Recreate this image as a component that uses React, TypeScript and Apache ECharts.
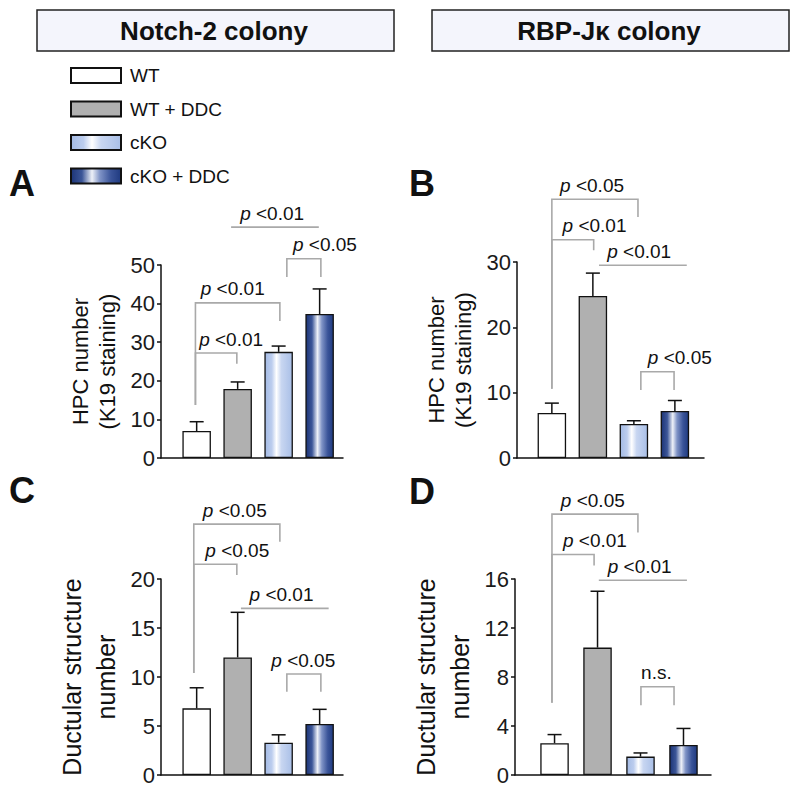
import React, { useEffect, useRef } from 'react';
import * as echarts from 'echarts';

// ---------- data ----------
const groups = ['WT', 'WT + DDC', 'cKO', 'cKO + DDC'];

const hpcNotchMean = [7.0, 17.9, 27.5, 37.3];
const hpcNotchErr = [2.4, 1.8, 1.5, 6.5];
const hpcRbpMean = [6.9, 24.8, 5.2, 7.2];
const hpcRbpErr = [1.5, 3.5, 0.5, 1.6];
const ductNotchMean = [6.8, 12.0, 3.3, 5.2];
const ductNotchErr = [2.1, 4.6, 0.8, 1.5];
const ductRbpMean = [2.6, 10.4, 1.5, 2.45];
const ductRbpErr = [0.7, 4.6, 0.3, 1.35];

const yMaxes = [50, 30, 20, 16];
const yIntervals = [10, 10, 5, 4];
const yTitles = ['HPC number\n(K19 staining)', 'HPC number\n(K19 staining)', 'Ductular structure\nnumber', 'Ductular structure\nnumber'];
const panelLetters = ['A', 'B', 'C', 'D'];
const headers = ['Notch-2 colony', 'RBP-J\u03ba colony'];

// significance brackets (data units): x1, x2, top, left-leg end, right-leg end, label x, label
type Br = { x1: number; x2: number; top: number; lb: number | null; rb: number | null; lx: number; text: string };
const bracketsA: Br[] = [
  { x1: 0.97, x2: 1.98, top: 27.2, lb: 13.7, rb: 24.4, lx: 1.84, text: 'p <0.01' },
  { x1: 0.97, x2: 3.03, top: 40.2, lb: 13.7, rb: 35.5, lx: 1.88, text: 'p <0.01' },
  { x1: 3.2, x2: 4.03, top: 51.6, lb: 46.9, rb: 46.9, lx: 4.13, text: 'p <0.05' },
  { x1: 1.84, x2: 3.98, top: 59.8, lb: null, rb: null, lx: 2.84, text: 'p <0.01' },
];
const bracketsB: Br[] = [
  { x1: 1.0, x2: 3.1, top: 39.6, lb: 10.6, rb: 36.9, lx: 1.98, text: 'p <0.05' },
  { x1: 1.0, x2: 2.02, top: 33.4, lb: 10.6, rb: 31.8, lx: 2.04, text: 'p <0.01' },
  { x1: 2.15, x2: 4.29, top: 29.5, lb: null, rb: null, lx: 3.13, text: 'p <0.01' },
  { x1: 3.17, x2: 3.98, top: 13.2, lb: 10.4, rb: 10.4, lx: 4.12, text: 'p <0.05' },
];
const bracketsC: Br[] = [
  { x1: 0.93, x2: 3.03, top: 25.6, lb: 10.4, rb: 23.8, lx: 1.93, text: 'p <0.05' },
  { x1: 0.93, x2: 1.98, top: 21.5, lb: 10.4, rb: 20.4, lx: 1.99, text: 'p <0.05' },
  { x1: 2.08, x2: 4.22, top: 17.0, lb: null, rb: null, lx: 3.07, text: 'p <0.01' },
  { x1: 3.2, x2: 4.03, top: 10.3, lb: 8.5, rb: 8.5, lx: 3.6, text: 'p <0.05' },
];
const bracketsD: Br[] = [
  { x1: 0.94, x2: 2.94, top: 21.3, lb: 5.9, rb: 19.8, lx: 1.89, text: 'p <0.05' },
  { x1: 0.94, x2: 1.92, top: 18.0, lb: 5.9, rb: 17.1, lx: 1.94, text: 'p <0.01' },
  { x1: 2.03, x2: 4.08, top: 15.9, lb: null, rb: null, lx: 2.98, text: 'p <0.01' },
  { x1: 3.01, x2: 3.78, top: 7.2, lb: 5.7, rb: 5.7, lx: 3.37, text: 'n.s.' },
];

// ---------- layout / style ----------
const FONT = '"Liberation Sans", Arial, Helvetica, sans-serif';
const grids = [
  { left: 161, top: 265, width: 182, height: 193, xmin: 0.13, xmax: 4.57, nameGap: 40, fs: 22, lh: 27 },
  { left: 517, top: 262, width: 187, height: 196, xmin: 0.15, xmax: 4.71, nameGap: 40, fs: 22, lh: 27 },
  { left: 161, top: 579, width: 182, height: 196, xmin: 0.13, xmax: 4.57, nameGap: 38, fs: 25, lh: 34 },
  { left: 515, top: 579, width: 196, height: 196, xmin: 0.08, xmax: 4.64, nameGap: 38, fs: 25, lh: 34 },
];
const letterPos = [
  [9, 183],
  [409, 183],
  [9, 490],
  [409, 491],
];

function fills(): any[] {
  return [
    '#ffffff',
    '#b0b0b0',
    new echarts.graphic.LinearGradient(0, 0, 1, 0, [
      { offset: 0, color: '#a4bbe5' },
      { offset: 0.25, color: '#bccdee' },
      { offset: 0.42, color: '#ffffff' },
      { offset: 0.6, color: '#c8d6f1' },
      { offset: 1, color: '#a9bfe7' },
    ]),
    new echarts.graphic.LinearGradient(0, 0, 1, 0, [
      { offset: 0, color: '#1c3477' },
      { offset: 0.22, color: '#3c5698' },
      { offset: 0.42, color: '#eef1f8' },
      { offset: 0.58, color: '#7f93c6' },
      { offset: 0.8, color: '#3a5499' },
      { offset: 1, color: '#1f3a80' },
    ]),
  ];
}

function buildOption() {
  const means = [hpcNotchMean, hpcRbpMean, ductNotchMean, ductRbpMean];
  const errs = [hpcNotchErr, hpcRbpErr, ductNotchErr, ductRbpErr];
  const brackets = [bracketsA, bracketsB, bracketsC, bracketsD];

  const axisLineStyle = { color: '#111', width: 1.5 };
  const series: any[] = [];

  means.forEach((m, p) => {
    const f = fills();
    groups.forEach((g, k) => {
      series.push({
        type: 'bar',
        name: g,
        xAxisIndex: p,
        yAxisIndex: p,
        barWidth: 28.5,
        barGap: '-100%',
        data: [[k + 1, m[k]]],
        itemStyle: { color: f[k], borderColor: '#111', borderWidth: 1.3 },
        z: 2,
      });
    });
    series.push({
      type: 'custom',
      xAxisIndex: p,
      yAxisIndex: p,
      clip: false,
      z: 3,
      encode: { x: 0, y: [1, 2] },
      data: m.map((v, k) => [k + 1, v, v + errs[p][k]]),
      renderItem: (params: any, api: any) => {
        const x = api.value(0);
        const p0 = api.coord([x, api.value(1)]);
        const p1 = api.coord([x, api.value(2)]);
        const st = { stroke: '#111', lineWidth: 1.5 };
        return {
          type: 'group',
          children: [
            { type: 'line', shape: { x1: p0[0], y1: p0[1], x2: p1[0], y2: p1[1] }, style: st },
            { type: 'line', shape: { x1: p1[0] - 7, y1: p1[1], x2: p1[0] + 7, y2: p1[1] }, style: st },
          ],
        };
      },
    });
    const bl = brackets[p];
    series.push({
      type: 'custom',
      xAxisIndex: p,
      yAxisIndex: p,
      clip: false,
      z: 4,
      encode: { x: 0, y: 1 },
      data: bl.map((b) => [b.lx, b.top]),
      renderItem: (params: any, api: any) => {
        const b = bl[params.dataIndex];
        const pts: number[][] = [];
        if (b.lb !== null) pts.push(api.coord([b.x1, b.lb]));
        pts.push(api.coord([b.x1, b.top]));
        pts.push(api.coord([b.x2, b.top]));
        if (b.rb !== null) pts.push(api.coord([b.x2, b.rb]));
        const lp = api.coord([b.lx, b.top]);
        const isP = b.text.startsWith('p ');
        const txt = isP ? '{i|p}' + b.text.slice(1) : b.text;
        return {
          type: 'group',
          children: [
            { type: 'polyline', shape: { points: pts }, style: { stroke: '#a9a9a9', lineWidth: 1.6, fill: 'none' } },
            {
              type: 'text',
              x: lp[0],
              y: lp[1] - 14,
              style: {
                text: txt,
                fontSize: 19,
                fontFamily: FONT,
                fill: '#111',
                align: 'center',
                verticalAlign: 'middle',
                rich: { i: { fontStyle: 'italic', fontSize: 19, fontFamily: FONT, fill: '#111' } },
              },
            },
          ],
        };
      },
    });
  });

  const graphic: any[] = [];
  headers.forEach((h, i) => {
    const x0 = i === 0 ? 37 : 432;
    graphic.push({
      type: 'rect',
      shape: { x: x0, y: 10, width: 357, height: 41 },
      style: { fill: '#f4f5fc', stroke: '#222', lineWidth: 1.5 },
    });
    graphic.push({
      type: 'text',
      x: x0 + 177,
      y: 31,
      style: { text: h, fontSize: 26, fontWeight: 'bold', fontFamily: FONT, fill: '#111', align: 'center', verticalAlign: 'middle' },
    });
  });
  panelLetters.forEach((L, i) => {
    graphic.push({
      type: 'text',
      x: letterPos[i][0],
      y: letterPos[i][1],
      style: { text: L, fontSize: 36, fontWeight: 'bold', fontFamily: FONT, fill: '#111', align: 'left', verticalAlign: 'middle' },
    });
  });

  return {
    animation: false,
    backgroundColor: '#ffffff',
    textStyle: { fontFamily: FONT },
    legend: {
      data: groups,
      orient: 'vertical',
      left: 70,
      top: 66,
      padding: 0,
      itemWidth: 50,
      itemHeight: 15,
      itemGap: 14.5,
      selectedMode: false,
      icon: 'rect',
      textStyle: { fontSize: 19, color: '#111', fontFamily: FONT, padding: [0, 0, 0, 4] },
    },
    grid: grids.map((g) => ({ left: g.left, top: g.top, width: g.width, height: g.height })),
    xAxis: grids.map((g, i) => ({
      type: 'value',
      gridIndex: i,
      min: g.xmin,
      max: g.xmax,
      axisLine: { show: true, lineStyle: axisLineStyle },
      axisTick: { show: false },
      axisLabel: { show: false },
      splitLine: { show: false },
    })),
    yAxis: grids.map((g, i) => ({
      type: 'value',
      gridIndex: i,
      min: 0,
      max: yMaxes[i],
      interval: yIntervals[i],
      name: yTitles[i],
      nameLocation: 'middle',
      nameGap: g.nameGap,
      nameRotate: 90,
      nameTextStyle: {
        fontSize: g.fs,
        lineHeight: g.lh,
        color: '#111',
        fontFamily: FONT,
      },
      axisLine: { show: true, lineStyle: axisLineStyle },
      axisTick: { show: true, length: 4, lineStyle: axisLineStyle },
      axisLabel: { fontSize: 22, color: '#1a1a1a', margin: 6, fontFamily: FONT },
      splitLine: { show: false },
    })),
    series,
    graphic,
  };
}

export default function App() {
  const ref = useRef<HTMLDivElement>(null);
  useEffect(() => {
    if (!ref.current) return;
    const chart = echarts.init(ref.current, undefined, { renderer: 'svg' });
    chart.setOption(buildOption() as any);
    return () => chart.dispose();
  }, []);
  return (
    <div
      ref={ref}
      style={{ position: 'absolute', left: 0, top: 0, width: 800, height: 790, background: '#fff' }}
    />
  );
}
